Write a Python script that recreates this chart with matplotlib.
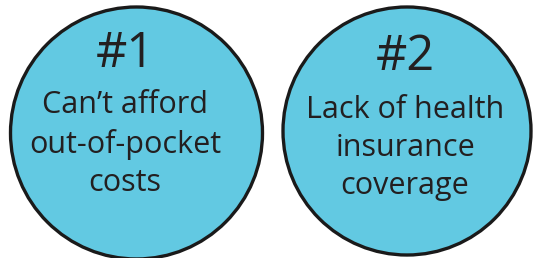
import matplotlib.pyplot as plt
from matplotlib.patches import Circle

ranks = ["#1", "#2"]
reasons = ["Can\u2019t afford\nout-of-pocket\ncosts", "Lack of health\ninsurance\ncoverage"]

# layout (pixels)
centers = [(136.5, 133), (407, 131)]
radii = [126, 124]
text_x = [125, 405]
rank_y = [54, 57]
reason_y = [144, 148]

fig = plt.figure(figsize=(5.33, 2.58), dpi=100)
ax = fig.add_axes([0, 0, 1, 1])
ax.set_xlim(0, 533)
ax.set_ylim(258, 0)
ax.set_aspect("equal")
ax.axis("off")

for i in range(len(ranks)):
    cx, cy = centers[i]
    ax.add_patch(Circle((cx, cy), radii[i], facecolor="#62c9e2",
                        edgecolor="#1a1a1a", linewidth=2.4))
    ax.text(text_x[i], rank_y[i], ranks[i], ha="center", va="center",
            fontsize=35, family="Open Sans", color="#231f20")
    ax.text(text_x[i], reason_y[i], reasons[i], ha="center", va="center",
            fontsize=22, family="Open Sans", color="#231f20",
            linespacing=1.36)

fig.savefig("out.png", dpi=100)
